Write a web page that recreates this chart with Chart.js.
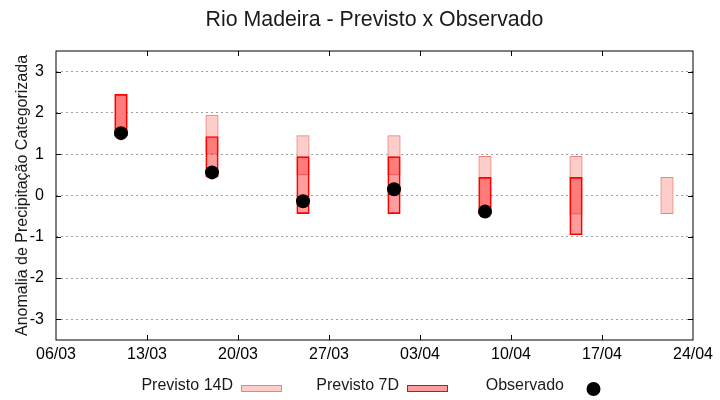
<!DOCTYPE html>
<html>
<head>
<meta charset="utf-8">
<script src="https://cdn.jsdelivr.net/npm/chart.js@4.4.0/dist/chart.umd.min.js"></script>
<style>
    html, body { margin: 0; padding: 0; background: #fff; }
    #box { width: 720px; height: 400px; }
</style>
</head>
<body>
<div id="box"><canvas id="grafico"></canvas></div>
<script>
// dias contados a partir de 06/03
const diasTicks = [0, 7, 14, 21, 28, 35, 42, 49];
const rotulosX = ['06/03', '13/03', '20/03', '27/03', '03/04', '10/04', '17/04', '24/04'];
const ticksY = [-3, -2, -1, 0, 1, 2, 3];

// semanas previstas: 11/03, 18/03, 25/03, 01/04, 08/04, 15/04, 22/04
const diasPrevisao = [5, 12, 19, 26, 33, 40, 47];
const prev14Min = [1.45, 1.0, 0.5, 0.5, -0.45, -0.45, -0.44];
const prev14Max = [2.45, 1.95, 1.45, 1.45, 0.95, 0.95, 0.44];
const prev7Min = [1.45, 0.45, -0.44, -0.44, -0.45, -0.95, null];
const prev7Max = [2.45, 1.43, 0.94, 0.94, 0.44, 0.44, null];
const observado = [1.51, 0.56, -0.14, 0.15, -0.39, null, null];

const cor14Fill = '#fdcdc9';
const cor14Borda = '#f08078';
const cor7Fill = 'rgba(255,0,0,0.39)';
const cor7Borda = '#ff0000';
const fonte = "'Liberation Sans', Arial, sans-serif";

const faixa = (mins, maxs) => diasPrevisao
    .map((d, i) => ({ x: d, y: [mins[i], maxs[i]] }))
    .filter(p => p.y[0] !== null);

const pontos = diasPrevisao
    .map((d, i) => ({ x: d, y: observado[i] }))
    .filter(p => p.y !== null);

// titulo, moldura, ticks internos e legenda no estilo gnuplot
const estiloGnuplot = {
    id: 'estiloGnuplot',
    afterDraw(chart) {
        const { ctx, chartArea: a, scales } = chart;
        ctx.save();
        ctx.strokeStyle = '#000';
        ctx.lineWidth = 1;
        ctx.strokeRect(a.left, a.top, a.right - a.left, a.bottom - a.top);
        ctx.beginPath();
        ticksY.forEach(v => {
            const y = Math.round(scales.y.getPixelForValue(v)) + 0.5;
            ctx.moveTo(a.left, y); ctx.lineTo(a.left + 5, y);
            ctx.moveTo(a.right, y); ctx.lineTo(a.right - 5, y);
        });
        diasTicks.slice(1, -1).forEach(v => {
            const x = Math.round(scales.x.getPixelForValue(v)) + 0.5;
            ctx.moveTo(x, a.bottom); ctx.lineTo(x, a.bottom - 5);
            ctx.moveTo(x, a.top); ctx.lineTo(x, a.top + 5);
        });
        ctx.stroke();

        ctx.fillStyle = '#1a1a1a';
        ctx.font = '21.33px ' + fonte;
        ctx.textAlign = 'center';
        ctx.textBaseline = 'middle';
        ctx.fillText('Rio Madeira - Previsto x Observado', (a.left + a.right) / 2, 20);

        // legenda
        ctx.font = '16px ' + fonte;
        ctx.textAlign = 'right';
        const yl = 386;
        ctx.fillText('Previsto 14D', 233, yl);
        ctx.fillText('Previsto 7D', 399, yl);
        ctx.fillText('Observado', 564, yl);

        ctx.fillStyle = cor14Fill;
        ctx.fillRect(241, 385, 41, 6.5);
        ctx.strokeStyle = cor14Borda;
        ctx.strokeRect(241.5, 385.5, 40, 6);

        ctx.fillStyle = cor7Fill;
        ctx.fillRect(407, 385, 41, 6.5);
        ctx.strokeStyle = cor7Borda;
        ctx.strokeRect(407.5, 385.5, 40, 6);

        ctx.fillStyle = '#000';
        ctx.beginPath();
        ctx.arc(593.5, 389, 7, 0, Math.PI * 2);
        ctx.fill();
        ctx.restore();
    },
};

new Chart(document.getElementById('grafico'), {
    type: 'bar',
    data: {
        datasets: [
            {
                label: 'Observado',
                type: 'scatter',
                data: pontos,
                backgroundColor: '#000',
                borderWidth: 0,
                pointRadius: 7,
                order: 0,
            },
            {
                label: 'Previsto 7D',
                data: faixa(prev7Min, prev7Max),
                backgroundColor: cor7Fill,
                borderColor: cor7Borda,
                borderWidth: 1,
                borderSkipped: false,
                barThickness: 12.5,
                grouped: false,
                order: 1,
            },
            {
                label: 'Previsto 14D',
                data: faixa(prev14Min, prev14Max),
                backgroundColor: cor14Fill,
                borderColor: cor14Borda,
                borderWidth: 1,
                borderSkipped: false,
                barThickness: 12.5,
                grouped: false,
                order: 2,
            },
        ],
    },
    options: {
        responsive: true,
        maintainAspectRatio: false,
        animation: false,
        layout: { padding: { left: 0, right: 27, top: 51, bottom: 0 } },
        plugins: {
            legend: { display: false },
            tooltip: { enabled: false },
        },
        scales: {
            x: {
                type: 'linear',
                min: 0,
                max: 49,
                offset: false,
                afterBuildTicks: s => { s.ticks = diasTicks.map(v => ({ value: v })); },
                afterFit: s => { s.height = 60; },
                ticks: {
                    callback: v => rotulosX[diasTicks.indexOf(v)],
                    color: '#000',
                    font: { family: fonte, size: 16 },
                    padding: 5,
                    maxRotation: 0,
                },
                grid: { display: false, drawTicks: false },
                border: { display: false },
            },
            y: {
                min: -3.5,
                max: 3.5,
                afterBuildTicks: s => { s.ticks = ticksY.map(v => ({ value: v })); },
                afterFit: s => { s.width = 56; },
                ticks: {
                    color: '#000',
                    font: { family: fonte, size: 16 },
                    padding: 12,
                },
                grid: { color: '#a0a0a0', drawTicks: false },
                border: { display: false, dash: [2, 3] },
                title: {
                    display: true,
                    text: 'Anomalia de Precipitação Categorizada',
                    color: '#1a1a1a',
                    font: { family: fonte, size: 16 },
                    padding: { top: 13, bottom: 0 },
                },
            },
        },
    },
    plugins: [estiloGnuplot],
});
</script>
</body>
</html>
